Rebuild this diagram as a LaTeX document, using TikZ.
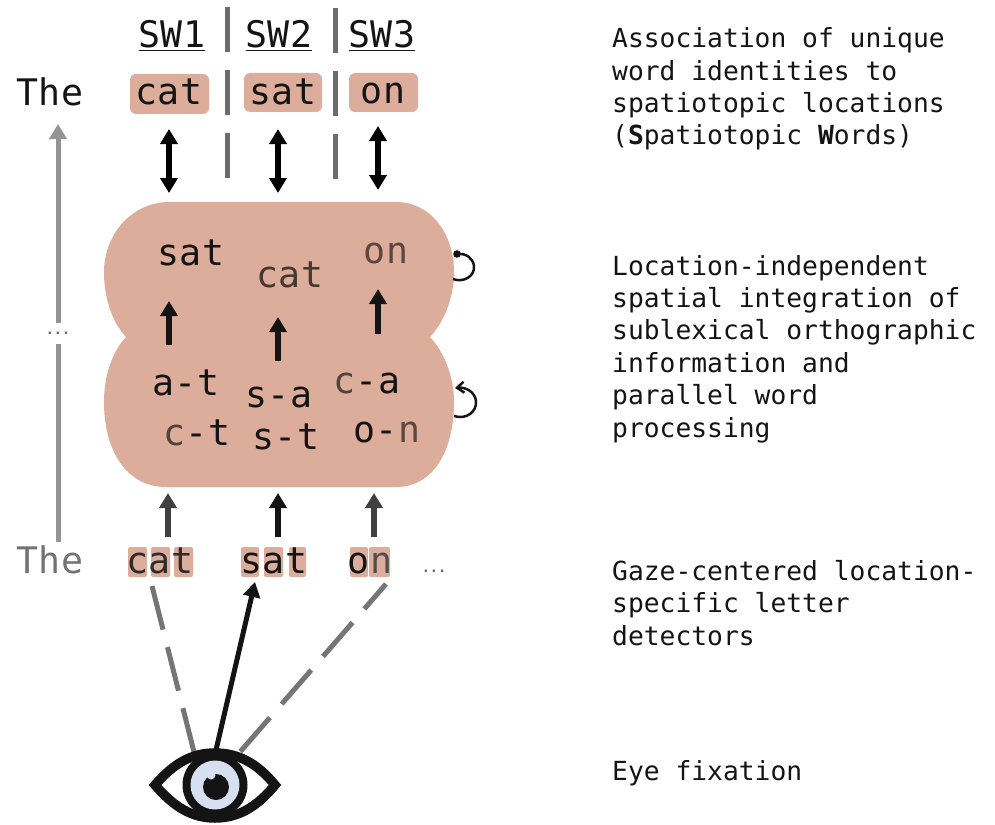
\documentclass[tikz,border=0pt]{standalone}
\usepackage{fontspec}
\setmainfont{DejaVu Sans Mono}
\usetikzlibrary{arrows.meta}
\definecolor{blob}{HTML}{DCAD9B}
\definecolor{divcol}{HTML}{6C6C6C}
\definecolor{dashcol}{HTML}{757575}
\definecolor{iris}{HTML}{D6E0F0}
\definecolor{ink}{HTML}{141414}
\tikzset{
  word/.style={font=\fontsize{36.6}{36.6}\selectfont,inner sep=0pt,anchor=base,text=ink},
  note/.style={font=\fontsize{26.3}{32.4}\selectfont,inner sep=0pt,anchor=west,align=left,text=ink},
  tagbox/.style={fill=blob,rounded corners=6pt},
  letterbox/.style={fill=blob,rounded corners=2pt},
  divider/.style={draw=divcol,line width=5pt},
  bothway/.style={draw=black,line width=5.5pt,{Triangle[length=15pt,width=17pt]}-{Triangle[length=15pt,width=17pt]}},
  upway/.style={draw=ink,line width=5.5pt,-{Triangle[length=15pt,width=17pt]}},
  dashline/.style={draw=dashcol,line width=5pt},
  loopline/.style={draw=ink,line width=2.5pt},
  dotstext/.style={font=\bfseries\fontsize{13.5}{13.5}\selectfont,text=black!60,inner sep=0pt}
}
\begin{document}
\begin{tikzpicture}[x=1pt,y=-1pt]
\useasboundingbox (0,0) rectangle (995,824);
% top tags
\fill[tagbox] (130,74) rectangle (209,114);
\fill[tagbox] (244,73) rectangle (322,112);
\fill[tagbox] (349,73) rectangle (418,112);
% blob
\fill[blob] (170,202) -- (396,202)
  .. controls (431,202) and (454,234) .. (454,272)
  .. controls (454,298) and (444,322) .. (430,337)
  .. controls (444,352) and (454,376) .. (454,402)
  .. controls (454,450) and (434,487) .. (396,487)
  -- (166,487)
  .. controls (126,487) and (104,450) .. (104,402)
  .. controls (104,376) and (112,352) .. (126,337)
  .. controls (112,322) and (104,298) .. (104,272)
  .. controls (104,236) and (130,202) .. (170,202) -- cycle;
% letter boxes
\foreach \a/\b in {128/147,151/170,174/193,241/259,264/283,289/306,350/368,369/390}
  \fill[letterbox] (\a,547) rectangle (\b,577);
% headers
\node[word] (sw1) at (172,48) {\underline{SW1}};
\node[word] (sw2) at (279,48) {\underline{SW2}};
\node[word] (sw3) at (382,48) {\underline{SW3}};
\node[word] (the1) at (50,106) {The};
\node[word] (cat1) at (169,105) {cat};
\node[word] (sat1) at (283,105) {sat};
\node[word] (on1) at (383,104) {on};
% inner words
\node[word] (sat2) at (191,265) {sat};
\node[word,text=black!55!blob!70!black] (cat2) at (290,287) {cat};
\node[word,text=black!45!blob!75!black] (on2) at (386,263) {on};
\node[word] (at) at (186,395) {a-t};
\node[word] (ct) at (197,445) {\textcolor{ink!70!blob}{c}-t};
\node[word] (sa) at (279,407) {s-a};
\node[word] (st) at (286,449) {s-t};
\node[word] (ca) at (367,393) {\textcolor{ink!70!blob}{c}-a};
\node[word] (onp) at (387,442) {o-\textcolor{ink!65!blob}{n}};
% bottom words
\node[word,text=black!55] (the2) at (50,573) {The};
\node[word,text=ink!90] (cat3) at (160,573) {cat};
\node[word] (sat3) at (274,573) {sat};
\node[word] (on3) at (370,573) {o\textcolor{ink!75}{n}};
\node[dotstext,anchor=base] (dots2) at (434,572) {...};
% dividers
\foreach \x/\d in {227/0,335/1}{
  \draw[divider] (\x,7+\d) -- (\x,52+\d);
  \draw[divider] (\x,70+\d) -- (\x,115+\d);
  \draw[divider] (\x,133+\d) -- (\x,178+\d);
}
% gray overview arrow
\coordinate (gtail) at (58,542);
\coordinate (ghead) at (58,124);
\node[dotstext,minimum height=21pt] (dots1) at (58,333.5) {...};
\draw[draw=black!42,line width=5pt] (gtail) -- (dots1);
\draw[draw=black!42,line width=5pt,-{Triangle[length=15pt,width=17pt]}] (dots1) -- (ghead);
% double arrows
\foreach \n/\x/\t/\b in {da/169/129/193,db/278/129/193,dc/378/126/190}{
  \coordinate (\n t) at (\x,\t);
  \coordinate (\n b) at (\x,\b);
  \draw[bothway] (\n t) -- (\n b);
}
% inner arrows
\foreach \n/\x/\t/\b in {ia/169/301/345,ib/278/317/361,ic/378/289/334}{
  \coordinate (\n t) at (\x,\t);
  \coordinate (\n b) at (\x,\b);
  \draw[upway] (\n b) -- (\n t);
}
% bottom arrows
\foreach \n/\x/\c in {ba/168/black!75,bb/278/ink,bc/374/black!75}{
  \coordinate (\n t) at (\x,493);
  \coordinate (\n b) at (\x,537);
  \draw[upway,draw=\c] (\n b) -- (\n t);
}
% loops
\coordinate (la) at (453,279);
\coordinate (lb) at (457,254);
\draw[loopline] (la) .. controls (464,283) and (475,276) .. (474,266)
  .. controls (473,258) and (466,253) .. (lb);
\fill[ink] (lb) circle (3.8pt);
\coordinate (lc) at (454,416);
\coordinate (ld) at (455,388);
\draw[loopline,-{Straight Barb[length=7pt,width=11pt]}] (lc) .. controls (466,420) and (477,412) .. (476,401)
  .. controls (475,392) and (466,387) .. (ld);
% eye lines
\coordinate (e1) at (194,752);
\coordinate (e2) at (216,750);
\coordinate (e3) at (240,752);
\coordinate (t1) at (152,586);
\coordinate (t2) at (255,582);
\coordinate (t3) at (386,584);
\draw[dashline,dash pattern=on 45pt off 18pt] (t1) -- (e1);
\draw[dashline,dash pattern=on 45pt off 18pt,dash phase=12pt] (t3) -- (e3);
\draw[draw=ink,line width=5pt,-{Triangle[length=15pt,width=17pt]}] (e2) -- (t2);
% eye
\draw[draw=ink,line width=9.5pt,line join=miter,fill=white]
  (155,785) .. controls (174,763) and (192,753) .. (215,753)
  .. controls (238,753) and (257,763) .. (275,785)
  .. controls (257,807) and (238,818) .. (215,818)
  .. controls (192,818) and (174,807) .. (155,785) -- cycle;
\fill[ink] (215,785) circle (32.5pt);
\fill[iris] (215,785) circle (24.5pt);
\fill[ink] (216,787) circle (13pt);
\fill[iris] (211,775) circle (4.5pt);
% notes
\node[note] (n1) at (612,89) {Association of unique\\word identities to\\spatiotopic locations\\(\textbf{S}patiotopic \textbf{W}ords)};
\node[note] (n2) at (612,349) {Location-independent\\spatial integration of\\sublexical orthographic\\information and\\parallel word\\processing};
\node[note] (n3) at (612,603) {Gaze-centered location-\\specific letter\\detectors};
\node[note] (n4) at (612,773) {Eye fixation};
\end{tikzpicture}
\end{document}
